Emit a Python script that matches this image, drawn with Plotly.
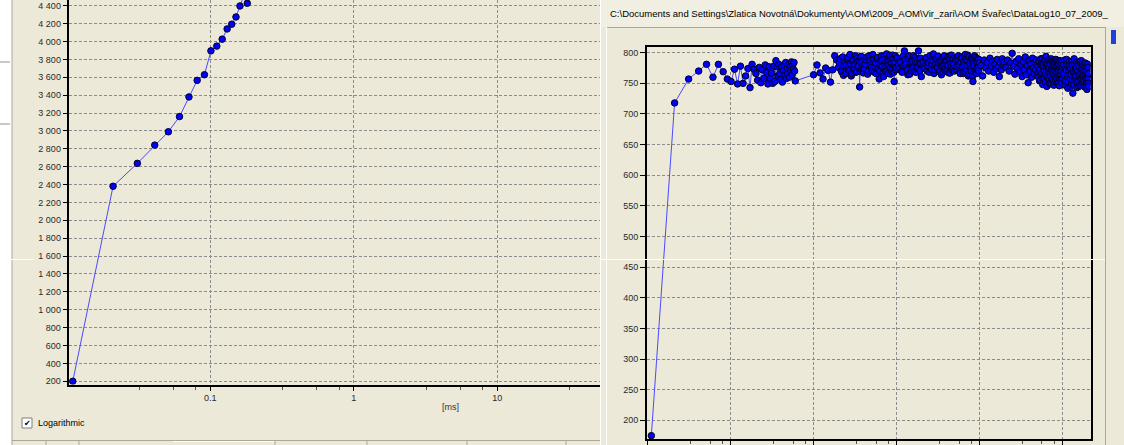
import plotly.graph_objects as go

W, H = 1124, 445

# ---------------- data ----------------
# left chart (log time axis in ms)
left_x = [0.011, 0.021, 0.031, 0.041, 0.051, 0.061, 0.071, 0.081, 0.091, 0.101,
          0.111, 0.121, 0.131, 0.141, 0.151, 0.161, 0.171, 0.181, 0.191, 0.201]
left_y = [200, 2381, 2637, 2841, 2990, 3160, 3380, 3565, 3628, 3895,
          3948, 4026, 4140, 4193, 4274, 4397, 4510, 4427, 4560, 4620]

# right chart, segments of the record
seg1_x = [0.011, 0.021, 0.031, 0.041, 0.051, 0.061, 0.071, 0.081, 0.091, 0.101,
          0.111, 0.121, 0.131, 0.141, 0.151, 0.161, 0.171, 0.181, 0.191]
seg1_y = [175, 718, 757, 770, 781, 760, 781, 769, 757, 753,
          773, 749, 778, 750, 762, 774, 743, 781, 773]

seg2_x = [0.201, 0.211, 0.221, 0.231, 0.241, 0.251, 0.261, 0.271, 0.281, 0.291,
          0.301, 0.311, 0.321, 0.331, 0.341, 0.351, 0.361, 0.371, 0.381, 0.391,
          0.401, 0.411, 0.421, 0.431, 0.441, 0.451, 0.461, 0.471, 0.481, 0.491,
          0.501, 0.511, 0.521, 0.531, 0.541, 0.551, 0.561, 0.571, 0.581, 0.591, 0.601]
seg2_y = [766, 755, 776, 751, 772, 758, 780, 768, 749, 777,
          758, 767, 750, 778, 753, 787, 777, 762, 781, 766,
          756, 777, 752, 771, 780, 763, 784, 758, 775, 766,
          781, 760, 777, 771, 785, 764, 780, 773, 784, 770, 754]

seg3_x = [1.0, 1.1, 1.2, 1.3, 1.4, 1.5, 1.6, 1.7, 1.8, 1.9]
seg3_y = [764, 780, 767, 757, 775, 771, 752, 772, 795, 788]

seg4_x = [2.0, 2.1, 2.2, 2.3, 2.4, 2.5, 2.6, 2.7, 2.8, 2.9, 3.0, 3.1, 3.2, 3.3, 3.4,
          3.5, 3.6, 3.7, 3.8, 3.9, 4.0]
seg4_y = [776, 790, 768, 763, 785, 779, 792, 771, 782, 766, 788, 775, 795, 769, 784,
          778, 744, 790, 772, 786, 767]
ex4_x = [2.05, 2.15, 2.25, 2.35, 2.45, 2.55, 2.65, 2.75, 2.85, 2.95, 3.05, 3.15, 3.25,
         3.35, 3.45, 3.55, 3.65, 3.75, 3.85, 3.95]
ex4_y = [784, 771, 793, 779, 766, 789, 775, 797, 762, 786, 773, 781, 768, 791, 777,
         787, 770, 794, 780, 774]

seg5_x = [4.2, 4.4, 4.6, 4.8, 5.0, 5.2, 5.4, 5.6, 5.8, 6.0, 6.2, 6.4, 6.6, 6.8, 7.0,
          7.2, 7.4, 7.6, 7.8, 8.0, 8.2, 8.4, 8.6, 8.8, 9.0, 9.2, 9.4, 9.6, 9.8, 10.0]
seg5_y = [781, 793, 770, 787, 776, 797, 768, 783, 790, 773, 757, 786, 795, 777, 761,
          789, 770, 798, 781, 766, 792, 775, 788, 769, 796, 779, 753, 785, 772, 791]
ex5_x = [4.1, 4.3, 4.5, 4.7, 4.9, 5.1, 5.3, 5.5, 5.7, 5.9, 6.1, 6.3, 6.5, 6.7, 6.9,
         7.1, 7.3, 7.5, 7.7, 7.9, 8.1, 8.3, 8.5, 8.7, 8.9, 9.1, 9.3, 9.5, 9.7, 9.9]
ex5_y = [774, 788, 765, 795, 780, 771, 789, 777, 766, 792, 783, 770, 779, 788, 767,
         794, 776, 784, 770, 789, 779, 796, 765, 783, 774, 790, 768, 781, 795, 776]

seg6_x = [10.5, 11, 11.5, 12, 12.5, 13, 13.5, 14, 14.5, 15, 15.5, 16, 16.5, 17, 17.5,
          18, 18.5, 19, 19.5, 20]
seg6_y = [778, 787, 770, 794, 803, 781, 772, 790, 765, 784, 776, 795, 769, 787, 779,
          774, 803, 782, 791, 761]
ex6_x = [10.25, 10.75, 11.25, 11.75, 12.25, 12.75, 13.25, 13.75, 14.25, 14.75, 15.25,
         15.75, 16.25, 16.75, 17.25, 17.75, 18.25, 18.75, 19.25, 19.75]
ex6_y = [791, 773, 784, 768, 779, 789, 775, 764, 795, 781, 770, 786, 777, 792, 768,
         784, 775, 790, 771, 783]

seg7_x = [21, 22, 23, 24, 25, 26, 27, 28, 29, 30, 31, 32, 33, 34, 35, 36, 37, 38, 39, 40,
          41, 42, 43, 44, 45, 46, 47, 48, 49, 50]
seg7_y = [785, 774, 792, 779, 768, 788, 781, 798, 772, 790, 777, 794, 769, 785, 764,
          791, 778, 795, 771, 786, 780, 793, 767, 789, 776, 796, 772, 784, 790, 770]
ex7_x = [21.5, 22.5, 23.5, 24.5, 25.5, 26.5, 27.5, 28.5, 29.5, 30.5, 31.5, 32.5, 33.5,
         34.5, 35.5, 36.5, 37.5, 38.5, 39.5, 40.5, 41.5, 42.5, 43.5, 44.5, 45.5, 46.5,
         47.5, 48.5, 49.5]
ex7_y = [777, 789, 770, 784, 795, 773, 787, 766, 780, 791, 775, 783, 770, 788, 778,
         768, 792, 781, 774, 786, 771, 779, 794, 767, 783, 777, 789, 773, 781]

seg8_x = [52, 54, 56, 58, 60, 62, 64, 66, 68, 70, 72, 74, 76, 78, 80, 82, 84, 86, 88, 90,
          92, 94, 96, 98, 100]
seg8_y = [788, 777, 795, 769, 784, 791, 766, 780, 797, 773, 787, 762, 793, 778, 770,
          789, 753, 782, 795, 768, 786, 775, 790, 771, 783]
ex8_x = [53, 55, 57, 59, 61, 63, 65, 67, 69, 71, 73, 75, 77, 79, 81, 83, 85, 87, 89, 91,
         93, 95, 97, 99]
ex8_y = [772, 790, 780, 766, 793, 777, 785, 769, 789, 779, 796, 765, 783, 774, 791,
         761, 787, 778, 771, 792, 766, 784, 776, 789]

seg9_x = [105, 110, 115, 120, 125, 130, 135, 140, 145, 150, 155, 160, 165, 170, 175,
          180, 185, 190, 195, 200]
seg9_y = [779, 762, 788, 775, 784, 770, 791, 778, 786, 768, 781, 774, 789, 777, 761,
          784, 772, 790, 779, 785]

seg10_x = [210, 220, 230, 240, 250, 260, 270, 280, 290, 300, 310, 320, 330, 340, 350,
           360, 370, 380, 390, 400, 410, 420, 430, 440, 450, 460, 470, 480, 490, 500]
seg10_y = [776, 788, 770, 783, 799, 778, 765, 786, 774, 790, 768, 781, 761, 785, 772,
           793, 764, 779, 751, 787, 770, 781, 760, 791, 775, 766, 784, 772, 788, 763]

seg11_x = [510, 520, 530, 540, 550, 560, 570, 580, 590, 600, 610, 620, 630, 640, 650,
           660, 670, 680, 690, 700, 710, 720, 730, 740, 750, 760, 770, 780, 790, 800,
           810, 820, 830, 840, 850, 860, 870, 880, 890, 900, 910, 920, 930, 940, 950,
           960, 970, 980, 990, 1000]
seg11_y = [779, 760, 786, 771, 755, 782, 767, 790, 758, 776, 764, 785, 752, 794, 770,
           781, 759, 787, 766, 775, 749, 783, 762, 790, 771, 756, 779, 765, 786, 753,
           774, 782, 760, 789, 768, 757, 778, 764, 785, 750, 772, 781, 761, 787, 769,
           755, 777, 763, 784, 758]
ex11_x = [515, 525, 535, 545, 555, 565, 575, 585, 595, 605, 615, 625, 635, 645, 655,
          665, 675, 685, 695, 705, 715, 725, 735, 745, 755, 765, 775, 785, 795, 805,
          815, 825, 835, 845, 855, 865, 875, 885, 895, 905, 915, 925, 935, 945, 955,
          965, 975, 985, 995]
ex11_y = [768, 785, 754, 773, 790, 762, 779, 748, 784, 770, 757, 788, 765, 776, 745,
          783, 761, 772, 789, 756, 767, 781, 750, 774, 786, 759, 770, 780, 747, 763,
          784, 771, 755, 779, 766, 788, 752, 773, 761, 782, 769, 746, 776, 758, 786,
          765, 779, 751, 771]

seg12_x = [1025, 1050, 1075, 1100, 1125, 1150, 1175, 1200, 1225, 1250, 1275, 1300, 1325,
           1350, 1375, 1400, 1425, 1450, 1475, 1500, 1525, 1550, 1575, 1600, 1625, 1650,
           1675, 1700, 1725, 1750, 1775, 1800, 1825, 1850, 1875, 1900, 1925, 1950, 1975,
           2000, 2025, 2050, 2075, 2100]
seg12_y = [776, 763, 788, 754, 771, 781, 742, 766, 785, 758, 774, 749, 780, 734, 767,
           790, 756, 776, 762, 784, 751, 770, 779, 745, 765, 786, 757, 773, 748, 781,
           761, 769, 753, 778, 744, 764, 783, 756, 771, 740, 762, 776, 750, 766]
ex12_x = [1012.5, 1037.5, 1062.5, 1087.5, 1112.5, 1137.5, 1162.5, 1187.5, 1212.5,
          1237.5, 1262.5, 1287.5, 1312.5, 1337.5, 1362.5, 1387.5, 1412.5, 1437.5,
          1462.5, 1487.5, 1512.5, 1537.5, 1562.5, 1587.5, 1612.5, 1637.5, 1662.5,
          1687.5, 1712.5, 1737.5, 1762.5, 1787.5, 1812.5, 1837.5, 1862.5, 1887.5,
          1912.5, 1937.5, 1962.5, 1987.5, 2012.5, 2037.5, 2062.5, 2087.5]
ex12_y = [758, 781, 767, 747, 775, 789, 760, 752, 771, 779, 745, 764, 786, 755, 772,
          748, 780, 766, 758, 775, 743, 769, 783, 754, 761, 776, 746, 768, 787, 757,
          772, 750, 763, 782, 747, 770, 759, 777, 744, 765, 752, 781, 758, 745]

all_x = (seg1_x + seg2_x + seg3_x + seg4_x + ex4_x + seg5_x + ex5_x + seg6_x + ex6_x
         + seg7_x + ex7_x + seg8_x + ex8_x + seg9_x + seg10_x + seg11_x + ex11_x
         + seg12_x + ex12_x)
all_y = (seg1_y + seg2_y + seg3_y + seg4_y + ex4_y + seg5_y + ex5_y + seg6_y + ex6_y
         + seg7_y + ex7_y + seg8_y + ex8_y + seg9_y + seg10_y + seg11_y + ex11_y
         + seg12_y + ex12_y)
pairs = sorted(zip(all_x, all_y))
right_x = [p[0] for p in pairs]
right_y = [p[1] for p in pairs]

left_xticks = [0.1, 1, 10]
left_xticktext = ["0.1", "1", "10"]
left_minor = [0.032, 0.055, 0.079, 0.32, 0.55, 0.79, 3.2, 5.5, 7.9, 32]
right_xticks = [0.01, 0.1, 1, 10, 100, 1000]
right_minor = [0.033, 0.057, 0.08, 0.33, 0.57, 0.8, 3.3, 5.7, 8, 33, 57, 80,
               330, 570, 800]

path_text = "C:\\Documents and Settings\\Zlatica Novotná\\Dokumenty\\AOM\\2009_AOM\\Vir_zari\\AOM Švařec\\DataLog10_07_2009_"

# ---------------- helpers ----------------
def px(x):
    return x / W


def py(y):
    return 1 - y / H


FONT = "Liberation Sans, Arial, sans-serif"
BEIGE = "#ECE9D8"
GRID = "#8c8c8c"
MARK = dict(color="#0000FF", size=6.5, line=dict(color="#000022", width=1))
LINE = dict(color="#4a4aff", width=1)

fig = go.Figure()
fig.add_trace(go.Scatter(x=left_x, y=left_y, xaxis="x", yaxis="y",
                         mode="lines+markers", marker=MARK, line=LINE,
                         hoverinfo="skip"))
fig.add_trace(go.Scatter(x=right_x, y=right_y, xaxis="x2", yaxis="y2",
                         mode="lines+markers", marker=MARK, line=LINE,
                         hoverinfo="skip"))

tickfont = dict(family=FONT, size=9, color="#2a2a2a")
common = dict(automargin=False, zeroline=False, showgrid=True, gridcolor=GRID,
              griddash="3px,2px", gridwidth=1, showline=True,
              linecolor="#000000", linewidth=2, tickcolor="#000000")

fig.update_layout(
    width=W, height=H,
    margin=dict(l=0, r=0, t=0, b=0, pad=0, autoexpand=False),
    paper_bgcolor=BEIGE,
    plot_bgcolor="rgba(0,0,0,0)",
    showlegend=False,
    separators=". ",
    xaxis=dict(type="log", domain=[px(68.7), px(600)], range=[-1.987, 1.716],
               anchor="y", tickmode="array", tickvals=left_xticks,
               ticktext=left_xticktext, ticks="outside", ticklen=4,
               tickfont=tickfont,
               minor=dict(tickmode="array", tickvals=left_minor, ticks="outside",
                          ticklen=3, tickcolor="#555555", showgrid=False),
               **common),
    yaxis=dict(domain=[py(384.5), 1], range=[164.3, 4463.6], anchor="x",
               tickmode="linear", tick0=200, dtick=200, tickformat=",d",
               ticks="outside", ticklen=4, tickfont=tickfont, **common),
    xaxis2=dict(type="log", domain=[px(647), px(1090.7)], range=[-2.011, 3.346],
                anchor="y2", mirror=True, tickmode="array", tickvals=right_xticks,
                showticklabels=False, ticks="outside", ticklen=4,
                minor=dict(tickmode="array", tickvals=right_minor, ticks="outside",
                           ticklen=3, tickcolor="#555555", showgrid=False),
                **common),
    yaxis2=dict(domain=[py(439), py(47.3)], range=[169.5, 808.8], anchor="x2",
                tickmode="linear", tick0=200, dtick=50, mirror=True,
                ticks="outside", ticklen=5, tickfont=tickfont, **common),
)

shapes = []


def rect(x0, y0, x1, y1, fill, line=None, lw=0, layer="below"):
    shapes.append(dict(type="rect", xref="paper", yref="paper",
                       x0=px(x0), x1=px(x1), y0=py(y1), y1=py(y0),
                       fillcolor=fill, layer=layer,
                       line=dict(color=line or fill, width=lw)))


def hline(x0, x1, y, color, w=1, layer="below"):
    shapes.append(dict(type="line", xref="paper", yref="paper",
                       x0=px(x0), x1=px(x1), y0=py(y), y1=py(y),
                       line=dict(color=color, width=w), layer=layer))


def vline(x, y0, y1, color, w=1, layer="below"):
    shapes.append(dict(type="line", xref="paper", yref="paper",
                       x0=px(x), x1=px(x), y0=py(y0), y1=py(y1),
                       line=dict(color=color, width=w), layer=layer))


# left white strip
rect(0, 0, 12, H, "#FFFFFF")
vline(12, 0, H, "#ACA899")
hline(0, 10, 62, "#C8C8C8", 2)
hline(0, 10, 124, "#C8C8C8", 2)
hline(10, 34, 259.5, "#FFFFFF", 1)
# bottom tab strip
hline(12, 600, 440.5, "#ACA899")
hline(173, 275, 441.5, "#FFFFFF")
for xv in [46, 79, 275, 367, 467, 566]:
    vline(xv, 440, H, "#ACA899")
# checkbox
rect(22, 418, 32, 428, "#FFFFFF", "#7F7F7F", 1)

# right window
rect(600, 0, W, H, BEIGE)
vline(600.5, 0, H, "#FFFFFF", 1)
rect(601, 0, W, 27, "#F1EFE2")
hline(606, 1106, 27.5, "#ACA899")
vline(606.5, 27, H, "#FFFFFF")
vline(1105.5, 27, H, "#ACA899")
rect(1111, 30, 1116, 44, "#1F3FE0")
hline(600, 1105, 259.5, "#FFFFFF", 1, layer="above")

fig.update_layout(shapes=shapes)

ann = [
    dict(x=px(450), y=py(407), text="[ms]", showarrow=False,
         font=dict(family=FONT, size=9, color="#333333"),
         xanchor="center", yanchor="middle", xref="paper", yref="paper"),
    dict(x=px(36), y=py(423), text="Logarithmic", showarrow=False,
         font=dict(family=FONT, size=9, color="#000000"),
         xanchor="left", yanchor="middle", xref="paper", yref="paper"),
    dict(x=px(27), y=py(423), text="✔", showarrow=False,
         font=dict(family="DejaVu Sans", size=8, color="#000000"),
         xanchor="center", yanchor="middle", xref="paper", yref="paper"),
    dict(x=px(608), y=py(13.5), text=path_text, showarrow=False,
         font=dict(family=FONT, size=9.5, color="#000000"),
         xanchor="left", yanchor="middle", xref="paper", yref="paper"),
]
fig.update_layout(annotations=ann)

fig.write_html("out.html",
               config={"displayModeBar": False},
               post_script="document.body.style.margin='0';"
                           "document.body.style.padding='0';")
